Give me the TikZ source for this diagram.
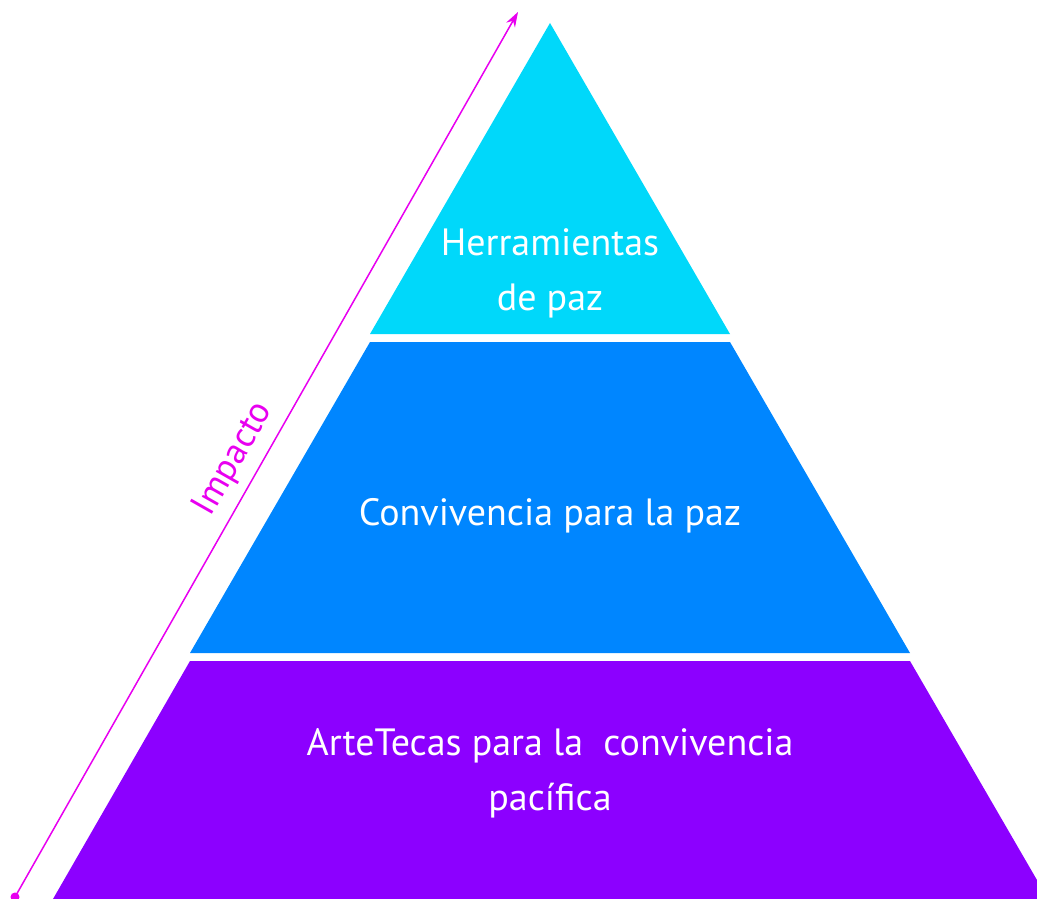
\documentclass[tikz,border=0pt]{standalone}
\usepackage{fontspec}
\setmainfont{PT Sans}
\usepackage{xcolor}
\usetikzlibrary{positioning, arrows.meta}
\definecolor{topcyan}{RGB}{0,216,250}
\definecolor{midblue}{RGB}{0,134,255}
\definecolor{basepurple}{RGB}{140,0,255}
\definecolor{impmagenta}{RGB}{232,0,240}

\begin{document}
\begin{tikzpicture}[x=1pt, y=-1pt,
                leveltext/.style={
                  text=white, anchor=base, align=center, inner sep=0pt,
                  font=\fontsize{38}{55}\selectfont
                },
                impactarrow/.style={
                  draw=impmagenta, line width=1.5pt,
                  -{Stealth[length=15pt,width=10pt]}
                }
                ]
                \useasboundingbox (0,0) rectangle (1037,899);
                % three levels of the pyramid
                \fill[topcyan] (550,23) -- (730,334) -- (370,334) -- cycle;
                \fill[midblue] (370,342) -- (730,342) -- (910,653) -- (190,653) -- cycle;
                \fill[basepurple] (190,661) -- (910,661) -- (1048,899) -- (53,899) -- cycle;
                % base anchor sits on the last line
                \node [leveltext] (tools) at (550,310) {Herramientas\\de paz};
                \node [leveltext] (living) at (550,525) {Convivencia para la paz};
                \node [leveltext] (artetecas) at (550,810) {ArteTecas para la\ \ convivencia\\pacífica};
                % impact arrow
                \coordinate (low) at (15,897);
                \coordinate (high) at (518,12);
                \draw [impactarrow] (low) -- node [pos=0.48, sloped, above, inner sep=9pt,
                  text=impmagenta, font=\fontsize{36}{40}\selectfont] (impact) {Impacto} (high);
                \fill [impmagenta] (low) circle (4.5);
\end{tikzpicture}
\end{document}
